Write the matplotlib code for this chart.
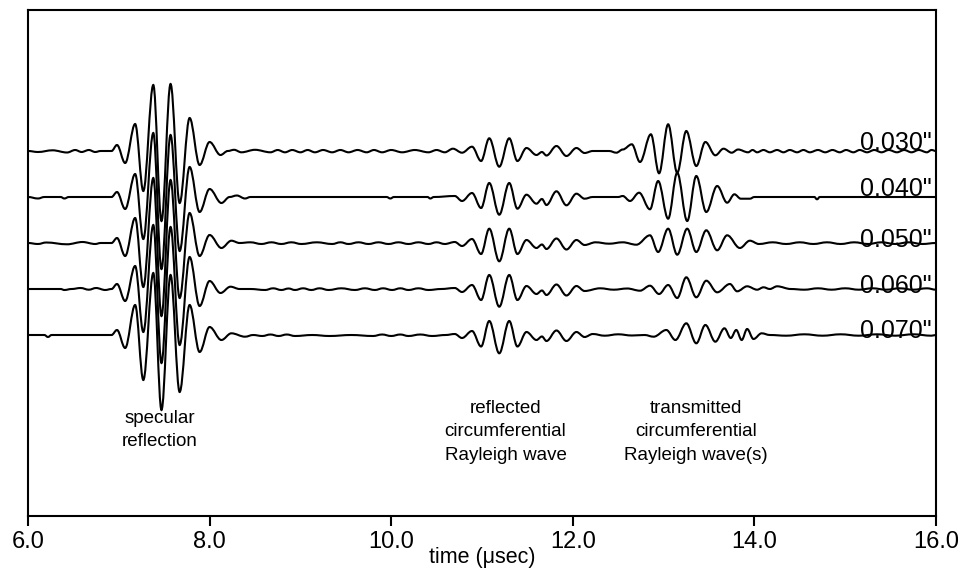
import matplotlib
matplotlib.use("Agg")
import numpy as np
import matplotlib.pyplot as plt
from matplotlib.path import Path
from matplotlib.patches import PathPatch

plt.rcParams['font.family'] = ['Liberation Sans', 'DejaVu Sans']

# trace labels (wall thickness) and their vertical offsets
thickness = ['0.030"', '0.040"', '0.050"', '0.060"', '0.070"']
offsets = [365, 319, 273, 227, 181]

# waveform extremes: time (usec), amplitude
t_030 = [6.00, 6.11, 6.27, 6.43, 6.52, 6.59, 6.67, 6.74, 6.80, 6.92,
         6.98, 7.07, 7.18, 7.27, 7.38, 7.47, 7.57, 7.67, 7.78, 7.89, 8.00, 8.12,
         8.20, 8.27, 8.35, 8.50, 8.67, 8.75, 8.83, 8.91, 9.00, 9.08, 9.16, 9.25,
         9.35, 9.44, 9.53, 9.63, 9.73, 9.81, 9.90, 10.00, 10.12, 10.26, 10.41,
         10.50, 10.59,
         10.68, 10.78, 10.89, 10.99, 11.08, 11.19, 11.30, 11.39, 11.49, 11.60,
         11.66, 11.71, 11.82, 11.93, 12.04, 12.13, 12.22, 12.40,
         12.48, 12.55, 12.65, 12.74, 12.86, 12.95, 13.05, 13.15, 13.25, 13.36,
         13.46, 13.57, 13.66, 13.75, 13.82, 13.93, 13.98, 14.03, 14.10, 14.17,
         14.25, 14.32, 14.39, 14.47, 14.54, 14.61, 14.70, 14.78, 14.86, 14.94,
         15.01, 15.09, 15.16, 15.24, 15.32, 15.40, 15.48, 15.57, 15.65, 15.73,
         15.81, 15.90, 15.95, 16.00]
a_030 = [0, -1, 0.7, -1.5, 1, -1, 1, -1, 0, 0,
         6, -12, 27, -40, 66, -70, 67, -52, 33, -14, 9, -4,
         0, 1.2, -1.3, 1.2, -1.3, 1, -1.3, 1, -1.3, 1, -1.3, 1,
         -1.3, 1, -1.3, 1, -1.3, 1, -1.3, 1, -1.3, 1, -1.3,
         1, -1.3,
         2.3, -1.7, 4.3, -10, 12.7, -15.7, 12.7, -10, 3, -4,
         -1, -4.5, 5, -5, 3, -2, 0, 0,
         -1.7, 1.5, 6.7, -11, 16.7, -22.3, 26.7, -21.7, 20, -15,
         9, -4.3, 2.3, -1.7, 1.5, -1.3, 1, -1.3, 1, -1.3,
         1, -1.3, 1, -1.3, 1, -1.3, 1, -1.3, 1, -1.3,
         1, -1.3, 1, -1.3, 1, -1.3, 1, -1.3, 1, -1.3,
         1, -1.3, 1, 0]

t_040 = [6.00, 6.11, 6.18, 6.36, 6.40, 6.45, 6.92,
         6.98, 7.07, 7.18, 7.27, 7.38, 7.47, 7.57, 7.67, 7.78, 7.89, 8.00, 8.13,
         8.22, 8.30, 8.39, 8.45, 9.95, 9.99, 10.03, 10.40, 10.43, 10.47,
         10.70, 10.78, 10.89, 10.99, 11.08, 11.19, 11.30, 11.39, 11.49, 11.60,
         11.66, 11.71, 11.82, 11.93, 12.04, 12.13, 12.22, 12.50,
         12.55, 12.63, 12.73, 12.85, 12.94, 13.05, 13.15, 13.26, 13.36, 13.47,
         13.59, 13.70, 13.78, 13.85, 13.95, 14.00, 14.66, 14.69, 14.72, 16.00]
a_040 = [0, -1.5, 0, 0, -1.5, 0, 0,
         5, -12, 23, -42, 64, -72, 62, -54, 30, -15, 8, -6,
         0, 1.5, -1.5, 0, 0, -1.5, 0, 0, -1.5, 0,
         1, -4, 4, -11, 14, -17.7, 14, -11.7, 2.3, -6.7,
         -2, -8, 5.7, -8.3, 3.3, -1.7, 0, 0,
         1, -4, 4.3, -12.3, 16, -21.7, 24.3, -24, 21, -15,
         11, -5.7, 2.7, -1.7, -1.7, 0, 0, -2.3, 0, 0]

t_050 = [6.00, 6.11, 6.20, 6.43, 6.60, 6.74, 6.80, 6.92,
         6.98, 7.07, 7.18, 7.27, 7.38, 7.47, 7.57, 7.67, 7.78, 7.89, 8.00, 8.13,
         8.24, 8.33, 8.45, 8.57, 8.68, 8.79, 8.90, 9.01, 9.18, 9.35, 9.44, 9.53,
         9.64, 9.75, 9.86, 9.97, 10.08, 10.19, 10.30, 10.41, 10.50, 10.59,
         10.70, 10.78, 10.89, 10.99, 11.08, 11.19, 11.30, 11.39, 11.49, 11.60,
         11.66, 11.71, 11.82, 11.93, 12.04, 12.13, 12.25, 12.40, 12.55,
         12.70, 12.85, 12.94, 13.05, 13.15, 13.26, 13.36, 13.47, 13.59, 13.70,
         13.84, 13.95, 14.05, 14.20, 14.35, 14.50, 14.65, 14.80, 14.95, 15.10,
         15.25, 15.40, 15.55, 15.70, 15.85, 16.00]
a_050 = [0, -1, 0.5, -1.3, 1, -1, 0, 0,
         5, -13, 25, -44, 65, -73, 63, -55, 30, -13, 8, -5,
         2.3, 0, 0.7, -1, 0.7, -1, 0.7, -1, 0.7, -1, 0.7, -1,
         0.7, -1, 0.7, -1, 0.7, -1, 0.7, -1, 0.7, -1,
         1, -3, 4, -11, 14.3, -18.3, 14.3, -11, 3, -5,
         -1.5, -6, 4.5, -6.5, 3, -2, 0.7, -0.7, 0.7,
         -1.7, 7.7, -9, 14.3, -11.7, 14.3, -9, 12.7, -7.3, 7.7,
         -5, 2.3, -1, 0.7, -1, 0.7, -1, 0.7, -1, 0.7,
         -1, 0.7, -1, 0.7, -1, 0]

t_060 = [6.00, 6.36, 6.40, 6.48, 6.58, 6.67, 6.75, 6.85, 6.92,
         6.98, 7.07, 7.18, 7.27, 7.38, 7.47, 7.57, 7.67, 7.78, 7.89, 8.00, 8.12,
         8.23, 8.33, 8.45, 8.61, 8.70, 8.79, 8.87, 8.94, 9.03, 9.12, 9.21, 9.31,
         9.45, 9.60, 9.71, 9.82, 9.91, 10.01, 10.10, 10.19, 10.30, 10.41, 10.55,
         10.70, 10.78, 10.89, 10.99, 11.08, 11.19, 11.30, 11.39, 11.49, 11.60,
         11.66, 11.71, 11.82, 11.93, 12.04, 12.13, 12.30, 12.45, 12.60,
         12.74, 12.85, 12.95, 13.05, 13.15, 13.25, 13.36, 13.47, 13.59,
         13.73, 13.81, 13.92, 14.03, 14.10, 14.17, 14.25, 14.40, 14.55, 14.70,
         14.85, 15.00, 15.15, 15.30, 15.45, 15.60, 15.75, 15.90, 16.00]
a_060 = [0, 0, -1, 0, 1, -0.7, 1, -1, 0,
         5, -12, 23, -43, 64, -74, 62, -56, 32, -17, 8, -4,
         2.3, 0, 0, -1, 0.7, -1, 0.5, -1, 0.7, -1, 0.7, -1,
         0.7, -1, 0.7, -1, 0.7, -1, 0.7, -1, 0.7, -1, 0,
         1, -3, 4, -11, 14, -17.7, 14, -11, 3, -5,
         -1.5, -6, 4.5, -6.5, 3, -2, 0.7, -0.7, 0.5,
         -1.7, 3.3, -5, 4, -9, 11.7, -8.3, 8.3, -3.3, 5,
         -2.3, 2.7, -0.7, 1.7, 0, 2.7, 0, -0.7, 0.7, -0.7,
         0.7, -0.7, 0.7, -0.7, 0.7, -0.7, 0.7, -0.7, 0]

t_070 = [6.00, 6.18, 6.22, 6.26, 6.92,
         6.98, 7.07, 7.18, 7.27, 7.38, 7.47, 7.57, 7.67, 7.78, 7.89, 8.00, 8.13,
         8.24, 8.39, 8.48, 8.58, 8.67, 8.76, 8.85, 8.94, 9.13, 9.32, 9.56, 9.80,
         9.90, 10.00, 10.10, 10.19, 10.32, 10.45, 10.60,
         10.70, 10.78, 10.89, 10.99, 11.08, 11.19, 11.30, 11.39, 11.49, 11.60,
         11.66, 11.71, 11.82, 11.93, 12.04, 12.13, 12.22, 12.35, 12.50, 12.65,
         12.79, 12.89, 13.03, 13.13, 13.25, 13.36, 13.46, 13.57, 13.67, 13.74,
         13.80, 13.86, 13.92, 13.99, 14.08, 14.17, 14.35, 14.55, 14.75, 14.95,
         15.15, 15.35, 15.55, 15.75, 15.95, 16.00]
a_070 = [0, 0, -2, 0, 0,
         5, -13, 30, -45, 62, -75, 60, -57, 30, -17, 8, -5,
         1.7, -1.7, 0, -1, 0.5, -1, 0.5, -1, 0, -1, 0, -1,
         0.5, -1, 0.5, -1, 0.5, -1, 0,
         1, -3, 4, -11.5, 14, -18.3, 14, -11.5, 3, -5,
         -1.5, -6, 4.5, -6, 3, -2, 1, -0.7, 0.7, -0.5,
         0, -1.7, 5, -5, 11.7, -8.3, 10, -6.7, 6.7, -3,
         5, -5, 6, -4, 1.7, 0, -0.7, 0.7, -0.7, 0.7,
         -0.7, 0.7, -0.7, 0.7, -0.7, 0]

times = [t_030, t_040, t_050, t_060, t_070]
amps = [a_030, a_040, a_050, a_060, a_070]


def wave_path(t, y):
    # smooth curve through the extremes (flat tangent at every point)
    verts = [(t[0], y[0])]
    codes = [Path.MOVETO]
    for i in range(1, len(t)):
        dt = t[i] - t[i - 1]
        verts += [(t[i - 1] + 0.36 * dt, y[i - 1]),
                  (t[i] - 0.36 * dt, y[i]),
                  (t[i], y[i])]
        codes += [Path.CURVE4] * 3
    return Path(verts, codes)


fig = plt.figure(figsize=(9.68, 5.69), dpi=100)
ax = fig.add_axes([28 / 968, 1 - 516 / 569, 908 / 968, 506 / 569])

for t, a, off in zip(times, amps, offsets):
    y = np.array(a) + off
    ax.add_patch(PathPatch(wave_path(t, y), fill=False, edgecolor='black',
                           lw=1.5))

# label shift above the trace line, in pixels
label_dy = [1, 1, -4, -4, -3]
for lab, off, dy in zip(thickness, offsets, label_dy):
    ax.text(15.956, off + dy, lab, ha='right', va='baseline', fontsize=18)

ax.text(7.45, 86, 'specular\nreflection', ha='center', va='center',
        fontsize=13.5, linespacing=1.5)
ax.text(11.26, 84, 'reflected\ncircumferential\nRayleigh wave',
        ha='center', va='center', fontsize=13.5, linespacing=1.5)
ax.text(13.36, 84, 'transmitted\ncircumferential\nRayleigh wave(s)',
        ha='center', va='center', fontsize=13.5, linespacing=1.5)

ax.set_xlim(6, 16)
ax.set_ylim(0, 506)
ax.set_xticks([6, 8, 10, 12, 14, 16])
ax.xaxis.set_major_formatter('{x:.1f}')
ax.set_yticks([])
ax.tick_params(axis='x', direction='out', length=7, width=1.5,
               labelsize=17, pad=4)
for s in ax.spines.values():
    s.set_linewidth(1.5)
ax.set_xlabel('time (\u03bcsec)', fontsize=15.5)
ax.xaxis.label.set_va('baseline')
ax.xaxis.set_label_coords(0.5, -(563 - 516) / 506)

fig.savefig('out.png', dpi=100)
